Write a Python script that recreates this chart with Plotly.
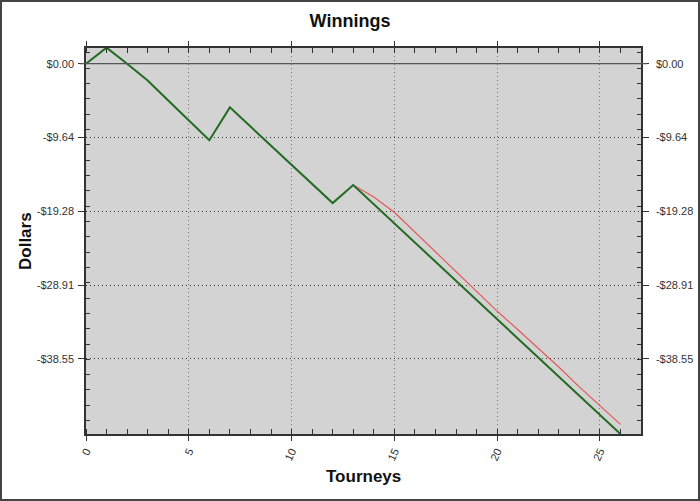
import plotly.graph_objects as go

# tourney number vs cumulative winnings
tourneys = list(range(0, 27))
winnings = [0.0, 2.1, 0.0, -2.2, -4.8, -7.4, -10.0, -5.7, -8.2, -10.7, -13.2, -15.7, -18.2,
            -15.85, -18.35, -20.85, -23.35, -25.85, -28.35, -30.85, -33.35, -35.85, -38.35,
            -40.85, -43.35, -45.85, -48.35]

# second (red) series starts at tourney 13
alt_tourneys = list(range(13, 27))
alt_winnings = [-15.85, -17.4, -19.4, -22.0, -24.6, -27.2, -29.7, -32.3, -34.7, -37.1,
                -39.6, -42.2, -44.7, -47.1]

y_tickvals = [0.0, -9.64, -19.28, -28.91, -38.55]
y_ticktext = ["$0.00", "-$9.64", "-$19.28", "-$28.91", "-$38.55"]
x_tickvals = [0, 5, 10, 15, 20, 25]

W, H = 700, 501
ml, mr, mt, mb = 86, 59, 48, 67
pw, ph = W - ml - mr, H - mt - mb

fig = go.Figure()
fig.add_trace(go.Scatter(
    x=alt_tourneys, y=alt_winnings, mode="lines",
    line={"color": "#e25a5a", "width": 1.2}, showlegend=False,
))
fig.add_trace(go.Scatter(
    x=tourneys, y=winnings, mode="lines",
    line={"color": "#236b23", "width": 2}, showlegend=False,
))
# invisible copy so the right-hand axis gets drawn
fig.add_trace(go.Scatter(
    x=tourneys, y=winnings, mode="lines", yaxis="y2",
    line={"width": 0}, opacity=0, hoverinfo="skip", showlegend=False,
))

tick_font = {"family": "Liberation Sans, Arial", "size": 11, "color": "#333333"}
yrange = [-48.35, 2.05]

yaxis_common = dict(
    range=yrange, tickmode="array", tickvals=y_tickvals, ticktext=y_ticktext,
    ticks="outside", ticklen=6, tickcolor="#333333", tickwidth=1,
    tickfont=tick_font, showline=True, linecolor="#333333", linewidth=1.5,
    showgrid=True, gridcolor="#333333", griddash="1px,3px", gridwidth=1,
    zeroline=False, automargin=False,
    minor={"tick0": -0.6, "dtick": 2, "ticks": "inside", "ticklen": 4,
           "tickcolor": "#333333", "showgrid": False},
)

fig.update_layout(
    width=W, height=H,
    margin={"l": ml, "r": mr, "t": mt, "b": mb},
    paper_bgcolor="white", plot_bgcolor="#d3d3d3",
    title={"text": "<b>Winnings</b>", "x": 0.5, "xref": "container",
           "y": 1 - 21 / H, "yref": "container", "yanchor": "middle", "xanchor": "center",
           "font": {"family": "Liberation Sans, Arial", "size": 18, "color": "#111111"}},
    xaxis=dict(
        range=[0, 27], tickmode="array", tickvals=x_tickvals, tickangle=-65,
        ticks="outside", ticklen=5, tickcolor="#333333", tickfont=tick_font,
        showline=True, linecolor="#333333", linewidth=1.5, mirror="allticks",
        showgrid=True, gridcolor="#777777", griddash="1px,3px", gridwidth=1,
        zeroline=False, automargin=False,
        minor={"dtick": 1, "ticks": "inside", "ticklen": 5, "tickcolor": "#333333",
               "showgrid": False},
    ),
    yaxis=dict(side="left", ticklabelstandoff=2, **yaxis_common),
    yaxis2=dict(side="right", overlaying="y", ticklabelstandoff=5, **yaxis_common),
    shapes=[
        dict(type="line", xref="paper", yref="y", x0=-6 / pw, x1=1 + 6 / pw, y0=0, y1=0,
             line={"color": "#555555", "width": 1.3}),
        dict(type="rect", xref="paper", yref="paper",
             x0=(-ml + 1) / pw, x1=1 + (mr - 1) / pw,
             y0=(-mb + 1) / ph, y1=1 + (mt - 1) / ph,
             line={"color": "#444444", "width": 2}, layer="above"),
    ],
    annotations=[
        dict(text="<b>Dollars</b>", xref="paper", yref="paper",
             x=(25 - ml) / pw, y=0.5, textangle=-90, showarrow=False,
             xanchor="center", yanchor="middle",
             font={"family": "Liberation Sans, Arial", "size": 17, "color": "#111111"}),
        dict(text="<b>Tourneys</b>", xref="paper", yref="paper",
             x=0.5, y=-(476 - (H - mb)) / ph, showarrow=False,
             xanchor="center", yanchor="middle",
             font={"family": "Liberation Sans, Arial", "size": 17, "color": "#111111"}),
    ],
)

fig.write_html("out.html", config={"displayModeBar": False},
               post_script="document.body.style.margin='0';")
